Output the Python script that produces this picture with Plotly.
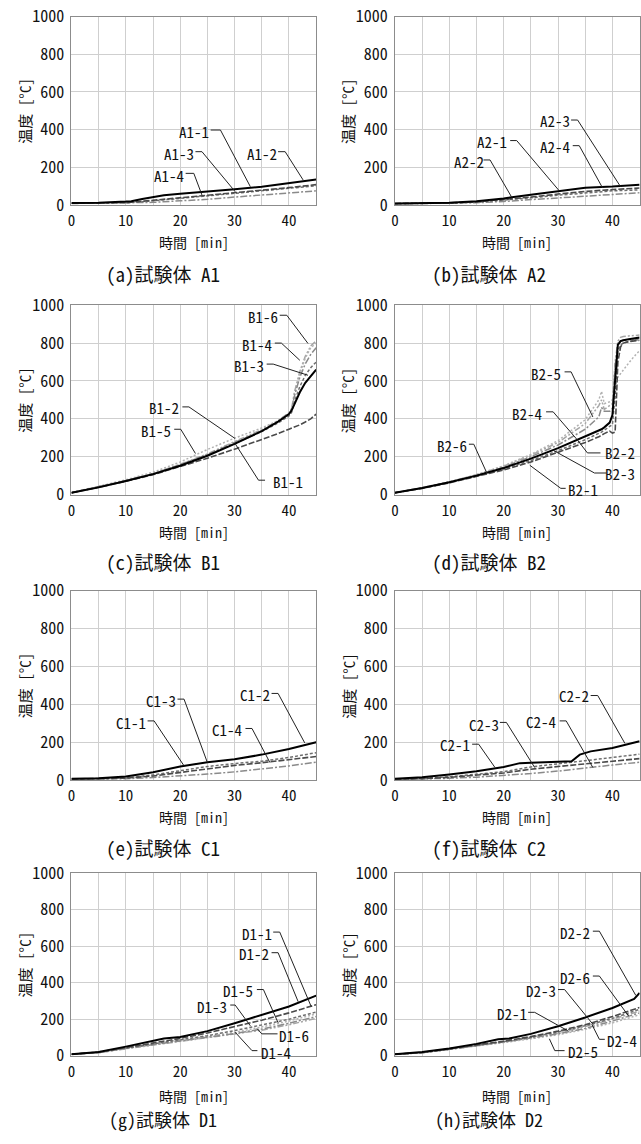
import plotly.graph_objects as go

W, H = 641, 1144

# ---------------- data (time [min], temperature [°C]) ----------------
T5 = [0, 5, 10, 15, 20, 25, 30, 35, 40, 45]

# (a) A1
A1_1 = [10, 11, 13, 25, 38, 50, 62, 77, 92, 108]
T_A1_2 = [0, 5, 10, 11, 13, 15, 17, 20, 25, 30, 35, 40, 45]
A1_2 = [10, 12, 18, 20, 32, 42, 52, 60, 70, 83, 97, 115, 135]
A1_3 = [9, 10, 12, 22, 35, 47, 60, 73, 88, 102]
A1_4 = [8, 9, 10, 14, 22, 30, 42, 52, 63, 75]

# (b) A2
A2_1 = [8, 9, 11, 17, 28, 42, 58, 72, 82, 90]
A2_2 = [8, 9, 12, 20, 35, 55, 75, 92, 98, 108]
A2_3 = [7, 8, 10, 15, 25, 38, 52, 65, 75, 80]
A2_4 = [6, 7, 8, 12, 19, 28, 38, 48, 57, 65]

# (c) B1
T_B1 = [0, 5, 10, 15, 20, 25, 30, 35, 38, 40, 40.5, 41, 42, 43, 44, 45]
B1_1 = [10, 38, 70, 105, 148, 192, 240, 290, 322, 345, 350, 356, 368, 383, 400, 425]
B1_2 = [10, 38, 72, 108, 152, 205, 268, 335, 385, 425, 445, 480, 540, 590, 625, 660]
B1_3 = [10, 38, 72, 108, 155, 208, 270, 333, 378, 415, 435, 490, 570, 630, 670, 700]
B1_4 = [10, 40, 74, 110, 158, 212, 275, 338, 385, 425, 450, 520, 620, 690, 740, 775]
B1_5 = [10, 42, 78, 118, 172, 238, 298, 352, 390, 430, 450, 530, 640, 720, 775, 800]
B1_6 = [10, 40, 75, 112, 160, 215, 280, 343, 390, 432, 455, 540, 650, 730, 785, 812]

# (d) B2
T_B2 = [0, 5, 10, 15, 20, 25, 30, 35, 37.5, 38, 38.5, 39.5, 40, 40.5, 41, 41.5, 42, 43, 44, 45]
B2_1 = [10, 33, 62, 95, 130, 172, 222, 275, 305, 315, 322, 335, 325, 330, 700, 780, 800, 808, 812, 815]
B2_2 = [10, 35, 65, 100, 140, 190, 245, 305, 335, 345, 355, 380, 420, 620, 790, 810, 815, 820, 825, 830]
B2_3 = [10, 34, 63, 97, 135, 180, 232, 290, 322, 330, 340, 360, 370, 520, 760, 790, 800, 808, 815, 820]
B2_4 = [10, 35, 66, 102, 145, 200, 262, 345, 410, 460, 440, 440, 455, 680, 800, 810, 815, 820, 822, 825]
B2_5 = [10, 36, 67, 105, 152, 212, 285, 395, 500, 545, 480, 490, 500, 600, 620, 640, 660, 695, 730, 760]
B2_6 = [10, 36, 67, 105, 150, 208, 275, 375, 470, 500, 450, 470, 480, 700, 810, 830, 835, 838, 840, 842]

# (e) C1
C1_1 = [6, 7, 11, 22, 40, 60, 78, 92, 108, 125]
C1_2 = [8, 10, 20, 42, 72, 95, 110, 135, 165, 200]
C1_3 = [6, 7, 12, 28, 50, 72, 88, 100, 120, 145]
C1_4 = [5, 6, 8, 14, 22, 32, 44, 58, 75, 95]

# (f) C2
C2_1 = [5, 8, 15, 25, 38, 58, 73, 85, 100, 114]
T_C2_2 = [0, 5, 10, 15, 20, 23, 25, 30, 32.5, 34, 36, 40, 45]
C2_2 = [8, 15, 30, 47, 70, 90, 92, 95, 100, 135, 152, 170, 205]
C2_3 = [5, 9, 18, 30, 45, 70, 88, 103, 120, 137]
C2_4 = [4, 6, 10, 16, 25, 35, 48, 65, 80, 95]

# (g) D1
D1_1 = [8, 20, 45, 70, 95, 125, 160, 195, 235, 280]
T_D1_2 = [0, 5, 10, 15, 17, 20, 25, 30, 35, 40, 45]
D1_2 = [8, 20, 50, 80, 95, 103, 135, 178, 222, 270, 330]
D1_3 = [8, 18, 42, 65, 85, 110, 138, 168, 200, 240]
D1_4 = [8, 17, 40, 60, 80, 100, 122, 146, 178, 215]
D1_5 = [8, 18, 41, 62, 82, 105, 128, 158, 190, 230]
D1_6 = [8, 17, 38, 58, 76, 96, 117, 140, 170, 205]

# (h) D2
D2_1 = [8, 18, 38, 58, 80, 105, 135, 170, 215, 265]
T_D2_2 = [0, 5, 10, 15, 19, 21, 25, 30, 35, 40, 44, 45]
D2_2 = [8, 20, 40, 65, 90, 95, 120, 162, 210, 262, 312, 345]
D2_3 = [8, 17, 36, 56, 78, 102, 130, 165, 205, 255]
D2_4 = [8, 17, 35, 54, 75, 97, 120, 150, 190, 235]
D2_5 = [8, 16, 34, 52, 72, 93, 115, 145, 180, 225]
D2_6 = [8, 17, 36, 55, 76, 100, 125, 160, 200, 245]

CAPTIONS = ["(a)試験体 A1", "(b)試験体 A2", "(c)試験体 B1", "(d)試験体 B2",
            "(e)試験体 C1", "(f)試験体 C2", "(g)試験体 D1", "(h)試験体 D2"]

SERIES = [
    [("A1-1", T5, A1_1, 1), ("A1-2", T_A1_2, A1_2, 2), ("A1-3", T5, A1_3, 3), ("A1-4", T5, A1_4, 4)],
    [("A2-1", T5, A2_1, 1), ("A2-2", T5, A2_2, 2), ("A2-3", T5, A2_3, 3), ("A2-4", T5, A2_4, 4)],
    [("B1-1", T_B1, B1_1, 1), ("B1-2", T_B1, B1_2, 2), ("B1-3", T_B1, B1_3, 3),
     ("B1-4", T_B1, B1_4, 4), ("B1-5", T_B1, B1_5, 5), ("B1-6", T_B1, B1_6, 6)],
    [("B2-1", T_B2, B2_1, 1), ("B2-2", T_B2, B2_2, 2), ("B2-3", T_B2, B2_3, 3),
     ("B2-4", T_B2, B2_4, 4), ("B2-5", T_B2, B2_5, 5), ("B2-6", T_B2, B2_6, 6)],
    [("C1-1", T5, C1_1, 1), ("C1-2", T5, C1_2, 2), ("C1-3", T5, C1_3, 3), ("C1-4", T5, C1_4, 4)],
    [("C2-1", T5, C2_1, 1), ("C2-2", T_C2_2, C2_2, 2), ("C2-3", T5, C2_3, 3), ("C2-4", T5, C2_4, 4)],
    [("D1-1", T5, D1_1, 1), ("D1-2", T_D1_2, D1_2, 2), ("D1-3", T5, D1_3, 3),
     ("D1-4", T5, D1_4, 4), ("D1-5", T5, D1_5, 5), ("D1-6", T5, D1_6, 6)],
    [("D2-1", T5, D2_1, 1), ("D2-2", T_D2_2, D2_2, 2), ("D2-3", T5, D2_3, 3),
     ("D2-4", T5, D2_4, 4), ("D2-5", T5, D2_5, 5), ("D2-6", T5, D2_6, 6)],
]

# label placement: text, text x, text y, leader start x, bend x, leader y, end x, end y (data units)
LABELS = [
    [("A1-1", 22.5, 389, 25.6, 27.4, 398, 32.9, 97),
     ("A1-2", 35.0, 274, 38.0, 39.3, 283, 42.6, 133),
     ("A1-3", 19.8, 271, 22.8, 24.0, 283, 30.1, 71),
     ("A1-4", 18.0, 159, 21.0, 22.5, 168, 24.0, 53)],
    [("A2-3", 29.4, 448, 32.4, 33.6, 451, 41.5, 97),
     ("A2-1", 17.8, 336, 21.2, 22.4, 342, 30.2, 76),
     ("A2-4", 29.4, 310, 32.7, 33.9, 315, 38.2, 90),
     ("A2-2", 13.6, 230, 16.3, 17.5, 239, 21.5, 40)],
    [("B1-6", 35.3, 942, 38.3, 39.6, 947, 43.5, 798),
     ("B1-4", 34.1, 795, 37.4, 38.6, 800, 42.0, 709),
     ("B1-3", 32.6, 683, 35.9, 37.1, 689, 43.5, 630),
     ("B1-2", 17.0, 460, 20.4, 21.6, 463, 30.1, 296),
     ("B1-5", 15.6, 340, 18.9, 20.1, 345, 22.8, 217),
     ("B1-1", 39.9, 67, 35.6, 34.4, 76, 30.1, 269)],
    [("B2-5", 27.8, 639, 31.2, 32.4, 648, 36.4, 410),
     ("B2-4", 24.2, 428, 27.8, 29.1, 437, 33.6, 287),
     ("B2-2", 41.4, 220, 37.8, 35.4, 220, 33.6, 287),
     ("B2-3", 41.4, 114, 38.9, 36.7, 114, 29.1, 234),
     ("B2-6", 10.5, 261, 13.6, 14.5, 266, 16.9, 114),
     ("B2-1", 34.6, 28, 31.4, 30.5, 33, 24.8, 155)],
    [("C1-2", 33.8, 454, 36.8, 38.0, 458, 42.9, 197),
     ("C1-3", 16.4, 419, 19.5, 20.7, 428, 25.0, 93),
     ("C1-1", 10.9, 305, 14.0, 15.2, 313, 20.7, 76),
     ("C1-4", 28.6, 269, 32.0, 33.2, 273, 36.5, 93)],
    [("C2-2", 33.0, 447, 36.0, 37.3, 447, 42.3, 194),
     ("C2-3", 16.3, 296, 19.3, 20.5, 305, 25.7, 67),
     ("C2-4", 26.9, 308, 30.3, 31.5, 313, 36.4, 67),
     ("C2-1", 11.1, 188, 14.2, 15.4, 190, 18.4, 67)],
    [("D1-1", 34.1, 671, 37.1, 38.3, 678, 44.1, 269),
     ("D1-2", 33.5, 560, 36.8, 38.0, 565, 41.7, 296),
     ("D1-5", 30.7, 357, 34.1, 35.3, 363, 38.0, 181),
     ("D1-3", 25.9, 271, 29.2, 30.1, 278, 32.9, 164),
     ("D1-6", 41.0, 112, 37.9, 35.0, 120, 34.1, 150),
     ("D1-4", 37.6, 20, 34.2, 33.2, 28, 30.1, 129)],
    [("D2-2", 33.2, 678, 36.4, 37.6, 683, 44.3, 331),
     ("D2-6", 33.2, 428, 36.4, 37.6, 437, 43.0, 217),
     ("D2-3", 26.9, 357, 30.0, 31.2, 363, 36.4, 173),
     ("D2-1", 21.5, 234, 24.5, 25.7, 238, 31.8, 137),
     ("D2-4", 41.7, 82, 38.6, 37.6, 90, 36.2, 173),
     ("D2-5", 34.5, 22, 31.2, 29.4, 28, 28.4, 93)],
]

# ---------------- styling ----------------
STYLE = {
    1: dict(color="#4a4a4a", width=1.6, dash="6px,2px"),
    2: dict(color="#000000", width=2.0, dash="solid"),
    3: dict(color="#6e6e6e", width=1.5, dash="3px,2px"),
    4: dict(color="#8a8a8a", width=1.5, dash="7px,2px,2px,2px"),
    5: dict(color="#b2b2b2", width=1.5, dash="2px,2px"),
    6: dict(color="#a6a6a6", width=1.5, dash="6px,2px,2px,2px,2px,2px"),
}
DRAW_ORDER = [6, 5, 4, 3, 1, 2]

NUM_FONT = "Noto Sans Mono CJK JP, DejaVu Sans Condensed, Noto Sans CJK JP, sans-serif"
JP_FONT = "Noto Sans Mono CJK JP, Noto Sans CJK JP, sans-serif"

# target pixel layout (picture coordinates)
COL_X = [(68, 314.6), (394, 640.6)]
ROW_Y = [(17, 205), (305, 494), (590, 779), (872, 1054)]
TITLE_DY = [37, 37, 37, 40]
CAPTION_Y = [273, 561, 846, 1117.5]
CAPTION_SIZE = [19, 19, 19, 18]
GRID = "#cfcfcf"
FRAME = "#8c8c8c"

# the picture maps paper height into a slightly smaller band; compensate vertically
Y_OFF, Y_SPAN = 13.4, 1117.7


def py(ypx):
    return 1 - (ypx - Y_OFF) / Y_SPAN


def px(xpx):
    return xpx / W


fig = go.Figure()
layout = dict(width=W, height=H, margin=dict(l=0, r=0, t=0, b=0),
              paper_bgcolor="white", plot_bgcolor="white", showlegend=False)
shapes = []
annotations = []

for p in range(8):
    r, c = divmod(p, 2)
    i = p + 1
    xs = "x" if i == 1 else f"x{i}"
    ys = "y" if i == 1 else f"y{i}"
    x0, x1 = COL_X[c]
    y0, y1 = ROW_Y[r]
    layout["xaxis" if i == 1 else f"xaxis{i}"] = dict(
        domain=[px(x0), px(x1)], anchor=ys, range=[0, 45],
        tickvals=[0, 10, 20, 30, 40], showgrid=True, gridcolor=GRID, gridwidth=1,
        minor=dict(tickvals=[5, 15, 25, 35], showgrid=True, gridcolor=GRID, gridwidth=1),
        showline=True, linecolor=FRAME, linewidth=1, mirror=True, zeroline=False,
        ticks="outside", ticklen=2, tickcolor="rgba(0,0,0,0)",
        tickfont=dict(family=NUM_FONT, size=15, color="#111"), fixedrange=True)
    layout["yaxis" if i == 1 else f"yaxis{i}"] = dict(
        domain=[py(y1), min(1.0, py(y0))], anchor=xs, range=[0, 1000],
        tickvals=[0, 200, 400, 600, 800, 1000], showgrid=True, gridcolor=GRID, gridwidth=1,
        showline=True, linecolor=FRAME, linewidth=1, mirror=True, zeroline=False,
        ticks="outside", ticklen=3, tickcolor="rgba(0,0,0,0)",
        tickfont=dict(family=NUM_FONT, size=16, color="#111"), fixedrange=True)

    series = {s[3]: s for s in SERIES[p]}
    for k in DRAW_ORDER:
        if k in series:
            name, t, v, _ = series[k]
            fig.add_trace(go.Scatter(x=t, y=v, mode="lines", name=name, xaxis=xs, yaxis=ys,
                                     line=STYLE[k], hoverinfo="skip"))

    for (txt, tx, ty, hx0, hx1, hy, ex, ey) in LABELS[p]:
        annotations.append(dict(text=txt, x=tx, y=ty, xref=xs, yref=ys, showarrow=False,
                                xanchor="center", yanchor="middle", borderpad=0,
                                font=dict(family=NUM_FONT, size=15, color="#111")))
        shapes.append(dict(type="path", xref=xs, yref=ys,
                           path=f"M {hx0},{hy} L {hx1},{hy} L {ex},{ey}",
                           line=dict(color="#222", width=1)))

    # axis titles and caption
    cx = (x0 + x1) / 2
    annotations.append(dict(text="時間 [min]", x=px(cx), y=py(y1 + TITLE_DY[r]), xref="paper", yref="paper",
                            showarrow=False, xanchor="center", yanchor="middle", borderpad=0,
                            font=dict(family=JP_FONT, size=14, color="#111")))
    annotations.append(dict(text="温度 [°C]", x=px(x0 - 47), y=py((y0 + y1) / 2),
                            xref="paper", yref="paper", textangle=-90,
                            showarrow=False, xanchor="center", yanchor="middle",
                            font=dict(family=JP_FONT, size=15, color="#111")))
    capx = 160 if c == 0 else 489
    annotations.append(dict(text=CAPTIONS[p], x=px(capx), y=py(CAPTION_Y[r]), xref="paper", yref="paper",
                            showarrow=False, xanchor="center", yanchor="middle", borderpad=0,
                            font=dict(family=JP_FONT, size=CAPTION_SIZE[r], color="#111")))

layout["shapes"] = shapes
layout["annotations"] = annotations
fig.update_layout(**layout)
fig.write_html("out.html")
